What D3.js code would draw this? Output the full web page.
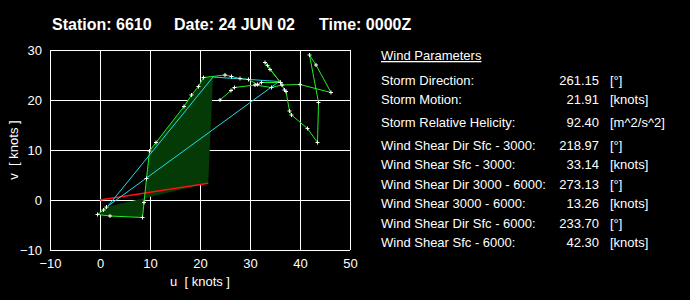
<!DOCTYPE html>
<html>
<head>
<meta charset="utf-8">
<script src="https://cdn.jsdelivr.net/npm/d3@7"></script>
<style>
  body { margin: 0; background: #000; }
  svg { display: block; background: #000; }
  text { font-family: Arial, "Liberation Sans", sans-serif; fill: #fff; white-space: pre; }
</style>
</head>
<body>
<div id="hodograph"></div>
<script>
//header text
var titleParts = ["Station: 6610", "Date: 24 JUN 02", "Time: 0000Z"];

//axis ticks
var uTicks = [-10, 0, 10, 20, 30, 40, 50];
var vTicks = [-10, 0, 10, 20, 30];

//hodograph winds (u, v in knots), surface upward
var hodoU = [1.3, 0.7, -0.5, 2.0, 8.5, 8.8, 9.3, 9.9, 11.2, 16.8, 18.3, 19.7, 20.7,
  25.0, 26.3, 28.0, 29.7, 31.5, 32.3, 36.1, 33.5, 33.0, 34.0, 36.1, 36.9, 37.2, 37.9, 38.3,
  41.5, 43.5, 43.7, 41.9, 43.2, 46.2, 40.0, 36.4, 34.3, 31.0, 26.9, 26.2, 24.0];
var hodoV = [-1.4, -2.0, -2.9, -3.2, -3.5, -0.5, 4.3, 9.8, 11.5, 18.7, 21.0, 22.7, 24.5,
  25.0, 24.7, 24.3, 24.1, 23.1, 23.5, 23.5, 26.9, 27.5, 26.1, 23.5, 22.0, 21.7, 17.8, 17.0,
  14.3, 11.5, 19.5, 29.0, 27.0, 21.5, 23.1, 23.0, 22.5, 23.0, 22.5, 21.9, 20.0];
var hodo3kmIndex = 12; // last level below 3000 m

//wind at shear levels (Sfc, 3000, 6000)
var shearLevels = ["Sfc", "3000", "6000"];
var shearU = [1.6, 22.6, 35.8];
var shearV = [-1.2, 24.6, 23.7];

//wind parameters panel
var paramLabels = ["Storm Direction:", "Storm Motion:", "Storm Relative Helicity:",
  "Wind Shear Dir Sfc - 3000:", "Wind Shear Sfc - 3000:",
  "Wind Shear Dir 3000 - 6000:", "Wind Shear 3000 - 6000:",
  "Wind Shear Dir Sfc - 6000:", "Wind Shear Sfc - 6000:"];
var paramValues = [261.15, 21.91, 92.40, 218.97, 33.14, 273.13, 13.26, 233.70, 42.30];
var paramUnits = ["[°]", "[knots]", "[m^2/s^2]", "[°]", "[knots]", "[°]", "[knots]", "[°]", "[knots]"];

var svg = d3.select("#hodograph")
  .append("svg")
  .attr("width", 690)
  .attr("height", 300);

//title
var titleX = [52, 174, 319];
svg.selectAll(".title")
  .data(titleParts)
  .enter().append("text")
  .attr("class", "title")
  .attr("x", function(d, i) { return titleX[i]; })
  .attr("y", 30)
  .style("font-size", "16px")
  .style("font-weight", "bold")
  .text(function(d) { return d; });

//scales
var x = d3.scaleLinear().domain([-10, 50]).range([50, 350]);
var y = d3.scaleLinear().domain([-10, 30]).range([250, 50]);

//grid + tick labels
var gx = svg.append("g")
  .attr("transform", "translate(0,250)")
  .call(d3.axisBottom(x).tickValues(uTicks).tickSize(-200).tickFormat(d3.format("d")));
gx.select(".domain").remove();
gx.selectAll("text").attr("y", 18).attr("dy", "0").style("font-size", "13px").style("font-family", "Arial, 'Liberation Sans', sans-serif");

var gy = svg.append("g")
  .attr("transform", "translate(50,0)")
  .call(d3.axisLeft(y).tickValues(vTicks).tickSize(-300).tickFormat(d3.format("d")));
gy.select(".domain").remove();
gy.selectAll("text").attr("x", -8).style("font-size", "13px").style("font-family", "Arial, 'Liberation Sans', sans-serif");

svg.selectAll(".tick line").attr("stroke", "white").attr("stroke-width", 1);
svg.selectAll(".tick text").attr("fill", "white");

//axis titles
svg.append("text")
  .attr("x", 200)
  .attr("y", 286)
  .attr("text-anchor", "middle")
  .style("font-size", "13px")
  .text("u  [ knots ]");

svg.append("text")
  .attr("transform", "translate(18,150) rotate(-90)")
  .attr("text-anchor", "middle")
  .style("font-size", "13px")
  .text("v  [ knots ]");

//storm motion vector from direction + speed
var smDir = paramValues[0] * Math.PI / 180;
var smU = -paramValues[1] * Math.sin(smDir);
var smV = -paramValues[1] * Math.cos(smDir);

var line = d3.line()
  .x(function(d) { return x(d[0]); })
  .y(function(d) { return y(d[1]); });

var hodo = hodoU.map(function(u, i) { return [u, hodoV[i]]; });

//helicity area (storm motion to 0-3000 m hodograph)
var heliPoly = [[smU, smV]].concat(hodo.slice(0, hodo3kmIndex + 1), [[shearU[1], shearV[1]]]);
svg.append("path")
  .attr("d", line.curve(d3.curveLinearClosed)(heliPoly))
  .attr("fill", "#033a06")
  .attr("stroke", "none");
line.curve(d3.curveLinear);

//storm motion (red)
svg.append("path")
  .attr("d", line([[0, 0], [smU, smV]]))
  .attr("fill", "none")
  .attr("stroke", "#ff1010")
  .attr("stroke-width", 1.5);

//hodograph (green)
svg.append("path")
  .attr("d", line(hodo))
  .attr("fill", "none")
  .attr("stroke", "#22ee22")
  .attr("stroke-width", 1);

//shear vectors (cyan)
var shearPairs = [[0, 1], [1, 2], [0, 2]];
svg.selectAll(".shear")
  .data(shearPairs)
  .enter().append("path")
  .attr("class", "shear")
  .attr("d", function(d) {
    return line([[shearU[d[0]], shearV[d[0]]], [shearU[d[1]], shearV[d[1]]]]);
  })
  .attr("fill", "none")
  .attr("stroke", "#22ddee")
  .attr("stroke-width", 1);

//level markers
svg.selectAll(".mark")
  .data(hodo)
  .enter().append("path")
  .attr("class", "mark")
  .attr("transform", function(d) { return "translate(" + x(d[0]) + "," + y(d[1]) + ")"; })
  .attr("d", "M-2,0H2M0,-2V2")
  .attr("stroke", "white")
  .attr("stroke-width", 1);

//parameters panel
svg.append("text")
  .attr("x", 381)
  .attr("y", 60)
  .style("font-size", "13px")
  .style("text-decoration", "underline")
  .text("Wind Parameters");

var rowY = [85, 104, 127, 150, 169, 189, 208, 228, 247];
var rows = svg.selectAll(".row")
  .data(paramLabels)
  .enter().append("g")
  .attr("class", "row")
  .attr("transform", function(d, i) { return "translate(0," + rowY[i] + ")"; });

rows.append("text")
  .attr("x", 381)
  .style("font-size", "13px")
  .text(function(d) { return d; });

rows.append("text")
  .attr("x", 599)
  .attr("text-anchor", "end")
  .style("font-size", "13px")
  .text(function(d, i) { return paramValues[i].toFixed(2); });

rows.append("text")
  .attr("x", 610)
  .style("font-size", "13px")
  .text(function(d, i) { return paramUnits[i]; });
</script>
</body>
</html>
